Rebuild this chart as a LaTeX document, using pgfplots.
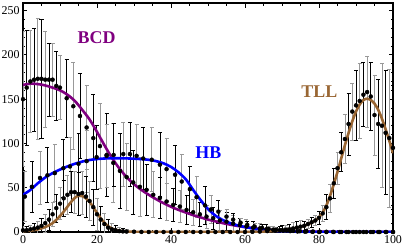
\documentclass[border=0pt]{standalone}
\usepackage{pgfplots}
\usepackage{pgfplotstable}
\pgfplotsset{compat=1.18}
\usepackage{fontspec}
\setmainfont{Liberation Serif}
\definecolor{mpurple}{RGB}{128,0,128}
\definecolor{mblue}{RGB}{0,0,255}
\definecolor{mbrown}{RGB}{153,102,51}

\pgfplotstableread{
x y e
0 150 76
1 163 65
2 170 58
3 172 58
4 173 68
5 173 67
6 172 54
7 172 41
8 172 41
9 165 39
10 163 36
11.8 151 44
13.6 142 49
15.4 131 48
17.2 118 47
19 106 49
20.8 97 48
22.6 87 47
24.4 78 45
26.2 69 42
28 62 38
29.8 56 36
31.6 51 33
33.4 47.6 29
35.2 42 26
37 38.5 23
38.8 34.4 21
40.6 30.6 19
42.4 28.7 18
44.2 25 16
46 22.3 14.5
47.8 20 13.5
49.6 17.4 13
51.4 15.5 12
53.2 13 11
55 11.7 10
56.8 9.5 9
58.6 7.8 8
60.4 6.4 7.5
62.2 5 6.5
64 4 5.5
65.8 3.2 5
67.6 2.6 4
69.4 2.1 4
71.2 1.6 3.2
73 1.2 2.8
74.8 0.9 2.2
76.6 0.7 2
78.4 0.5 1.5
80.2 0.3 1
82 0.2 1
83.8 0.1 1
85.6 0 1
87.4 0 1
89.2 0 1
91 0 1
92.8 0 1
94.6 0 1
96.4 0 1
98.2 0 1
100 0 1
}\bcddata

\pgfplotstableread{
x y e
0.5 40 28
2.4 51 29
4.6 61 30
6.6 64 31
8.6 66.5 32
10.9 72 33
12.7 74 33
15 77 34
17.2 80 35
19.9 84.5 36
22.6 86 36
24.5 87 36
27.1 88 36
28.9 88 36
30.7 86 35
32.5 83 35
34.8 81.6 36
37 76 36
38.8 71 35
41.1 64.6 33
42.9 57 31
45.1 48.4 26
46.9 39.3 23
49.2 30 21
50.8 25.5 16
52.8 23 13
55 17.4 8
56.8 14 6.5
58.8 10.5 5.2
60.6 8 4.4
62.6 6.2 4
64.6 4.7 3.4
66.4 3.5 3
68.4 2.5 2.5
70.4 1.5 2
72.2 1 1.5
74.2 0.6 1
76.2 0.4 1
78.2 0.2 1
80 0 1
82 0 1
84 0 1
86 0 1
88 0 1
90 0 1
92 0 1
94 0 1
96 0 1
98 0 1
100 0 1
}\hbdata

\pgfplotstableread{
x y e
0 2 4
1 2 4
2 3 5
3 4 6
4 5 7
5 7 8
6 10 10
7 14 12
8 20 14
9 27 16
10 32 18
11 38 20
12 42 22
13 45 23
14 45 24
15 43 24
16 44 24
17 40 23
18 35 22
19 28 20
20 20 18
21 14 15
22 9 12
23 5 9
24 3 7
25 2 5
26 1 4
27 0.7 3
28 0.5 2
30 0.3 1.5
32 0.1 1
34 0 1
36 0 1
38 0 1
40 0 1
42 0 1
44 0 1
46 0 1
48 0 1
50 0 1
52 0 1
54 0 1
56 0 1
58 0 1
60 0 1
62 0.2 1.5
64 0.5 2
66 1 3
68 1.5 4
70 2 5
71 2.5 5.5
72 3 6
73 4 6.5
74 5 7
75 6 7
76 7 5
77 9 5
78 11 6
79 13 6
80 16 7
81 21 9
82 28 14
83 38 16
84 55 17
85 72 18
86 90 22
87 105 28
88 122 35
89 136 32
90 143 40
91 148 42
92 155 36
93 158 40
94 153 38
95 132 45
96 122 50
97 120 70
98 112 70
99 106 78
100 95 70
}\tlldata

\pgfplotstableread{
x y
0 166
2 167.5
4 167
6 165.5
8 163
10 160
12 155
14 148
16 138
18 127
20 113
22 98
24 84
26 72
28 62
30 54
32 47.5
34 42
36 37
38 32.5
40 28.5
42 25
44 22
46 19
48 16.5
50 14
52 12
54 10
56 8.3
58 6.8
60 5.5
62 4.4
64 3.5
66 2.7
68 2.1
70 1.6
74 0.9
78 0.5
82 0.3
86 0.15
90 0.05
100 0
}\bcdfit

\pgfplotstableread{
x y
0 42
2 47.5
4 55
6 61.5
8 66.5
10 70.5
12 74
14 77
16 79.5
18 81.3
20 82.4
22 83
24 83.3
26 83.3
28 83.1
30 82.8
32 82.3
34 81.5
36 80
38 77.5
40 73.5
42 67.5
44 59.5
46 47.5
48 36
50 26
52 18.5
54 13.5
56 10
58 7.5
60 5.6
62 4.2
64 3
66 2.1
68 1.4
70 0.9
74 0.4
78 0.15
84 0
100 0
}\hbfit

\pgfplotstableread{
x y
0 1
2 1.5
4 3
6 5.5
8 10
10 18
11 23
12 28.5
13 34
14 38.5
15 41
16 40.5
17 38
18 34
19 28
20 21.5
21 15.5
22 10.5
23 6.5
24 4
26 1.5
28 0.5
32 0.1
40 0
60 0
64 0.3
68 1.2
70 2
72 3.2
74 4.8
76 7
78 10.5
79 13
80 16.5
81 22
82 30
83 41
84 54
85 68
86 83
87 98
88 112
89 125
90 136
91 144
92 149
93 150.5
94 149
95 145
96 138
97 128
98 116
99 103
100 89
}\tllfit

\pgfplotsset{
  ebgray/.style={only marks, mark=none, draw=none,
    restrict expr to domain={mod(\coordindex,2)}{0:0},
    error bars/.cd, y dir=both, y explicit,
    error bar style={line width=0.75bp, black!40, solid},
    error mark options={rotate=90, mark size=2bp, line width=0.75bp, black!40, solid}},
  ebblack/.style={only marks, mark=none, draw=none,
    restrict expr to domain={mod(\coordindex,2)}{1:1},
    error bars/.cd, y dir=both, y explicit,
    error bar style={line width=0.75bp, black, solid},
    error mark options={rotate=90, mark size=2bp, line width=0.75bp, black, solid}},
  bkdots/.style={only marks, mark=*, mark size=1.15bp, color=black, mark options={draw=black, fill=black, solid, line width=0pt}},
}

\begin{document}
\begin{tikzpicture}
\begin{axis}[
  name=ax,
  scale only axis,
  width=370bp, height=228.5bp,
  xmin=0, xmax=100, ymin=0, ymax=258,
  xtick={0,20,...,100}, ytick={0,50,...,250},
  minor x tick num=3, minor y tick num=4,
  tick align=inside,
  major tick length=4.5bp, minor tick length=2.5bp,
  every tick/.style={black, line width=0.8bp},
  axis line style={line width=2bp},
  ticklabel style={font=\fontsize{12}{12}\selectfont},
  /pgf/number format/assume math mode=true,
  clip=true,
]
\addplot[ebgray] table[x=x, y=y, y error=e] {\bcddata};
\addplot[ebblack] table[x=x, y=y, y error=e] {\bcddata};
\addplot[ebgray] table[x=x, y=y, y error=e] {\hbdata};
\addplot[ebblack] table[x=x, y=y, y error=e] {\hbdata};
\addplot[ebgray] table[x=x, y=y, y error=e] {\tlldata};
\addplot[ebblack] table[x=x, y=y, y error=e] {\tlldata};

\addplot[mpurple, line width=2.6bp, smooth, no marks] table[x=x, y=y] {\bcdfit};
\addplot[mblue, line width=2.6bp, smooth, no marks] table[x=x, y=y] {\hbfit};
\addplot[mbrown, line width=2.6bp, smooth, no marks] table[x=x, y=y] {\tllfit};

\addplot[bkdots] table[x=x, y=y] {\bcddata};
\addplot[bkdots] table[x=x, y=y] {\hbdata};
\addplot[bkdots] table[x=x, y=y] {\tlldata};

\node[mpurple, font=\fontsize{18}{18}\selectfont\bfseries] at (axis cs:19.9,219.6) {BCD};
\node[mblue, font=\fontsize{18}{18}\selectfont\bfseries] at (axis cs:50.1,90) {HB};
\node[mbrown, font=\fontsize{18}{18}\selectfont\bfseries] at (axis cs:80.1,159) {TLL};
\end{axis}
\pgfresetboundingbox
\path[use as bounding box] ([xshift=-23bp,yshift=-18bp]ax.south west) rectangle ([xshift=10bp,yshift=3.5bp]ax.north east);
\end{tikzpicture}
\end{document}
